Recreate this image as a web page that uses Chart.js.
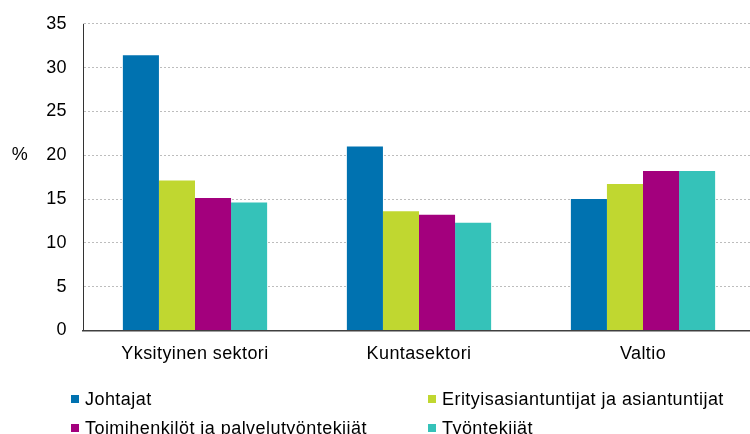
<!DOCTYPE html>
<html>
<head>
<meta charset="utf-8">
<script src="https://cdn.jsdelivr.net/npm/chart.js@4/dist/chart.umd.min.js"></script>
<style>
  html, body { margin: 0; padding: 0; background: #fff; overflow: hidden; width: 750px; height: 434px; }
  #wrap { position: relative; width: 755px; height: 434px; overflow: hidden; }
  #c { position: absolute; left: 0; top: -3px; }
  #legend { position: absolute; left: 0; top: 0; width: 750px; height: 434px; pointer-events: none;
    font-family: "Liberation Sans", Arial, sans-serif; font-size: 18px; letter-spacing: 0.45px; color: #000; }
  .item { position: absolute; white-space: nowrap; line-height: 20px; height: 20px; }
  .sw { display: inline-block; width: 8px; height: 8px; margin-right: 6px; vertical-align: 2px; }
</style>
</head>
<body>
<div id="wrap">
  <canvas id="c" width="755" height="437"></canvas>
  <div id="legend"></div>
</div>
<script>
const categories = ["Yksityinen sektori", "Kuntasektori", "Valtio"];
const seriesNames = ["Johtajat", "Erityisasiantuntijat ja asiantuntijat", "Toimihenkilöt ja palvelutyöntekijät", "Työntekijät"];
const johtajat = [31.4, 21.0, 15.0];
const erityis = [17.1, 13.6, 16.7];
const toimi = [15.1, 13.2, 18.2];
const tyontekijat = [14.6, 12.3, 18.2];
const yTicks = [0, 5, 10, 15, 20, 25, 30, 35];
const colors = ["#0072B0", "#C0D730", "#A3007D", "#35C2B9"];
const values = [johtajat, erityis, toimi, tyontekijat];

const FONT = "'Liberation Sans', Arial, sans-serif";

const extrasPlugin = {
  id: "extras",
  beforeInit(chart) { chart.ctx.letterSpacing = "0.4px"; },
  beforeDraw(chart) { chart.ctx.letterSpacing = "0.4px"; },
  afterDraw(chart) {
    const ctx = chart.ctx;
    const area = chart.chartArea;
    const y = chart.scales.y.getPixelForValue(20);
    ctx.save();
    // solid y axis line
    ctx.strokeStyle = "#333";
    ctx.lineWidth = 1;
    ctx.setLineDash([]);
    ctx.beginPath();
    ctx.moveTo(area.left + 0.5, area.top);
    ctx.lineTo(area.left + 0.5, area.bottom);
    ctx.stroke();
    // "%" label
    ctx.font = "18px " + FONT;
    ctx.fillStyle = "#000";
    ctx.textAlign = "center";
    ctx.textBaseline = "middle";
    ctx.fillText("%", 20, y);
    ctx.restore();
  }
};

const chart = new Chart(document.getElementById("c"), {
  type: "bar",
  data: {
    labels: categories,
    datasets: seriesNames.map((name, i) => ({
      label: name,
      data: values[i],
      backgroundColor: colors[i],
      borderWidth: 0,
      barPercentage: 1,
      categoryPercentage: 0.644
    }))
  },
  options: {
    responsive: false,
    animation: false,
    devicePixelRatio: 1,
    layout: { padding: { top: 9, right: 0, bottom: 56, left: 0 } },
    plugins: { legend: { display: false }, tooltip: { enabled: false } },
    scales: {
      x: {
        grid: { display: false, drawTicks: false },
        border: { display: true, color: "#404040", width: 1.5 },
        ticks: { color: "#000", font: { family: FONT, size: 18 }, padding: 13 }
      },
      y: {
        min: 0, max: 35,
        afterFit(s) { s.width = 83; },
        afterBuildTicks(s) { s.ticks = yTicks.map(v => ({ value: v })); },
        grid: { color: "#bdbdbd", lineWidth: 1, drawTicks: false },
        border: { display: true, color: "rgba(0,0,0,0)", dash: [2, 2] },
        ticks: { color: "#000", font: { family: FONT, size: 18 }, padding: 16 }
      }
    }
  },
  plugins: [extrasPlugin]
});

// HTML legend built from datasets
const legend = document.getElementById("legend");
const pos = [[71, 389], [428, 389], [71, 418], [428, 418]];
chart.data.datasets.forEach((ds, i) => {
  const d = document.createElement("div");
  d.className = "item";
  d.style.left = pos[i][0] + "px";
  d.style.top = pos[i][1] + "px";
  const sw = document.createElement("span");
  sw.className = "sw";
  sw.style.background = ds.backgroundColor;
  d.appendChild(sw);
  d.appendChild(document.createTextNode(ds.label));
  legend.appendChild(d);
});
</script>
</body>
</html>
